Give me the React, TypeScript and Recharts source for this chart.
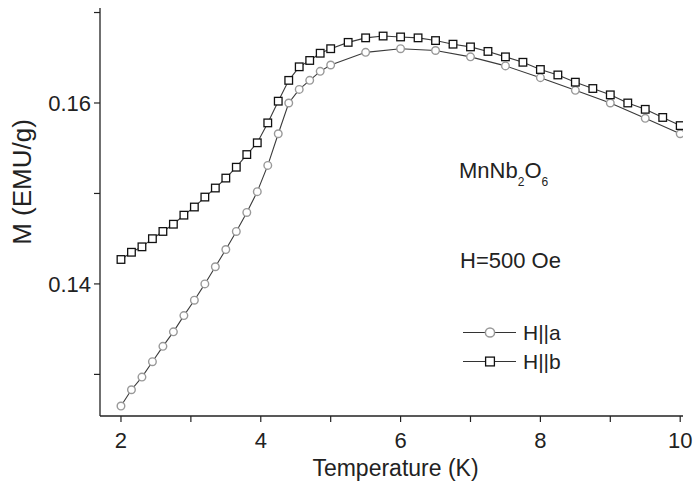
import React from "react";
import { LineChart, Line, XAxis, YAxis, Legend } from "recharts";

// temperature (K) and magnetisation (EMU/g), H || a
const tempA = [
  2.0, 2.15, 2.3, 2.45, 2.6, 2.75, 2.9, 3.05, 3.2, 3.35, 3.5, 3.65, 3.8, 3.95, 4.1, 4.25, 4.4, 4.55, 4.7, 4.85,
  5.0, 5.5, 6.0, 6.5, 7.0, 7.5, 8.0, 8.5, 9.0, 9.5, 10.0,
];
const magA = [
  0.1265, 0.1283, 0.1297, 0.1314, 0.1331, 0.1347, 0.1365, 0.1382, 0.14, 0.1419, 0.1438, 0.1458, 0.1479, 0.1502,
  0.1531, 0.1566, 0.16, 0.1615, 0.1625, 0.1635, 0.1642, 0.1656, 0.166, 0.1658, 0.1651, 0.1641, 0.1628, 0.1614,
  0.16, 0.1583, 0.1566,
];

// H || b
const tempB = [
  2.0, 2.15, 2.3, 2.45, 2.6, 2.75, 2.9, 3.05, 3.2, 3.35, 3.5, 3.65, 3.8, 3.95, 4.1, 4.25, 4.4, 4.55, 4.7, 4.85,
  5.0, 5.25, 5.5, 5.75, 6.0, 6.25, 6.5, 6.75, 7.0, 7.25, 7.5, 7.75, 8.0, 8.25, 8.5, 8.75, 9.0, 9.25, 9.5, 9.75,
  10.0,
];
const magB = [
  0.1427, 0.1435, 0.1441, 0.145, 0.1458, 0.1466, 0.1476, 0.1485, 0.1496, 0.1506, 0.1517, 0.1529, 0.1543, 0.1556,
  0.1578, 0.1602, 0.1625, 0.164, 0.1647, 0.1655, 0.166, 0.1667, 0.1672, 0.1674, 0.1673, 0.1672, 0.1669, 0.1665,
  0.1662, 0.1657, 0.1651, 0.1645, 0.1637, 0.1631, 0.1623, 0.1616, 0.1609, 0.16, 0.1593, 0.1584, 0.1575,
];

const xTicks = [2, 3, 4, 5, 6, 7, 8, 9, 10];
const xLabels = [2, 4, 6, 8, 10];
const yTicks = [0.13, 0.14, 0.15, 0.16, 0.17];
const yLabels = [0.14, 0.16];

const FONT = "'Liberation Sans', Arial, Helvetica, sans-serif";
const INK = "#222";

const seriesA = tempA.map((t, i) => ({ t, m: magA[i] }));
const seriesB = tempB.map((t, i) => ({ t, m: magB[i] }));

const CircleDot = (props: any) => {
  const { cx, cy, index } = props;
  if (cx == null || cy == null) return null;
  return <circle key={"c" + index} cx={cx} cy={cy} r={3.8} fill="#fff" stroke="#999" strokeWidth={1.4} />;
};

const SquareDot = (props: any) => {
  const { cx, cy, index } = props;
  if (cx == null || cy == null) return null;
  return (
    <rect key={"s" + index} x={cx - 3.8} y={cy - 3.8} width={7.6} height={7.6} fill="#fff" stroke="#111" strokeWidth={1.3} />
  );
};

const XTick = (props: any) => {
  const { x, y, payload } = props;
  if (!xLabels.includes(payload.value)) return null;
  return (
    <text x={x} y={y + 24} textAnchor="middle" fontSize={22} fontFamily={FONT} fill={INK}>
      {payload.value}
    </text>
  );
};

const YTick = (props: any) => {
  const { x, y, payload } = props;
  if (!yLabels.some((v) => Math.abs(v - payload.value) < 1e-9)) return null;
  return (
    <text x={x - 1} y={y + 7.8} textAnchor="end" fontSize={22} fontFamily={FONT} fill={INK}>
      {payload.value.toFixed(2)}
    </text>
  );
};

const LegendBox = (props: any) => {
  const { payload } = props;
  return (
    <div style={{ fontFamily: FONT }}>
      {(payload || []).map((entry: any, i: number) => (
        <div key={i} style={{ display: "flex", alignItems: "center", height: 29 }}>
          <svg width={54} height={29}>
            <line x1={0} y1={14.5} x2={53} y2={14.5} stroke="#333" strokeWidth={1.2} />
            {i === 0 ? (
              <circle cx={27} cy={14.5} r={4.6} fill="#fff" stroke="#999" strokeWidth={1.5} />
            ) : (
              <rect x={22.6} y={10.1} width={8.8} height={8.8} fill="#fff" stroke="#111" strokeWidth={1.3} />
            )}
          </svg>
          <span style={{ fontSize: 21, color: INK, marginLeft: 6 }}>{entry.value}</span>
        </div>
      ))}
    </div>
  );
};

export default function App() {
  return (
    <div style={{ position: "absolute", left: 0, top: 0, width: 693, height: 485, background: "#fff" }}>
      <LineChart width={693} height={485} margin={{ top: 8, right: 10, bottom: 0, left: 0 }}>
        <XAxis
          dataKey="t"
          type="number"
          domain={[1.7, 10.04]}
          ticks={xTicks}
          allowDataOverflow
          height={69}
          tick={<XTick />}
          tickSize={6}
          axisLine={{ stroke: INK, strokeWidth: 1.3 }}
          tickLine={{ stroke: INK, strokeWidth: 1.2 }}
          label={{
            content: (p: any) => (
              <text
                x={p.viewBox.x + p.viewBox.width / 2 + 4}
                y={p.viewBox.y + 60}
                textAnchor="middle"
                fontSize={23}
                fontFamily={FONT}
                fill={INK}
              >
                Temperature (K)
              </text>
            ),
          }}
        />
        <XAxis
          xAxisId="top"
          orientation="top"
          type="number"
          domain={[1.7, 10.04]}
          height={0}
          tick={false}
          tickLine={false}
          axisLine={{ stroke: INK, strokeWidth: 1.3 }}
        />
        <YAxis
          type="number"
          domain={[0.1254, 0.1705]}
          ticks={yTicks}
          allowDataOverflow
          width={100}
          tick={<YTick />}
          tickSize={6}
          axisLine={{ stroke: INK, strokeWidth: 1.3 }}
          tickLine={{ stroke: INK, strokeWidth: 1.2 }}
          label={{
            content: (p: any) => (
              <text
                transform={`translate(${p.viewBox.x + 31}, 182) rotate(-90)`}
                textAnchor="middle"
                fontSize={26}
                fontFamily={FONT}
                fill={INK}
              >
                M (EMU/g)
              </text>
            ),
          }}
        />
        <YAxis
          yAxisId="right"
          orientation="right"
          type="number"
          domain={[0.1254, 0.1705]}
          width={0}
          tick={false}
          tickLine={false}
          axisLine={{ stroke: INK, strokeWidth: 1.3 }}
        />
        <Legend
          layout="vertical"
          align="center"
          verticalAlign="middle"
          content={<LegendBox />}
          wrapperStyle={{ left: 463, top: 318, width: 130, height: 60 }}
        />
        <Line
          data={seriesA}
          dataKey="m"
          name="H||a"
          stroke="#3a3a3a"
          strokeWidth={1.1}
          dot={<CircleDot />}
          activeDot={false}
          isAnimationActive={false}
        />
        <Line
          data={seriesB}
          dataKey="m"
          name="H||b"
          stroke="#3a3a3a"
          strokeWidth={1.1}
          dot={<SquareDot />}
          activeDot={false}
          isAnimationActive={false}
        />
      </LineChart>
      <div
        style={{ position: "absolute", left: 459, top: 160, fontFamily: FONT, fontSize: 22, lineHeight: "22px", color: INK }}
      >
        MnNb
        <span style={{ fontSize: 12, position: "relative", top: 8 }}>2</span>O
        <span style={{ fontSize: 12, position: "relative", top: 8 }}>6</span>
      </div>
      <div
        style={{ position: "absolute", left: 460, top: 250, fontFamily: FONT, fontSize: 22, lineHeight: "22px", color: INK }}
      >
        H=500 Oe
      </div>
    </div>
  );
}
